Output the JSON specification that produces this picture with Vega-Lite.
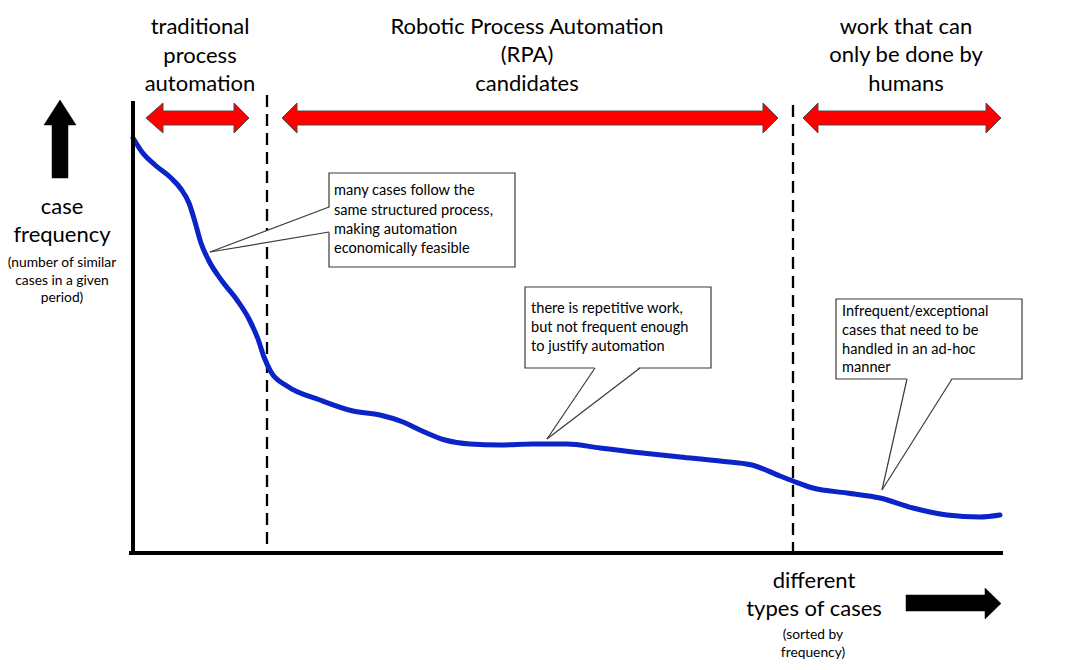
{
  "$schema": "https://vega.github.io/schema/vega-lite/v6.json",
  "width": 1067,
  "height": 670,
  "autosize": {"type": "fit", "contains": "padding"},
  "padding": 0,
  "background": "white",
  "config": {"view": {"stroke": null}, "font": "Lato"},
  "datasets": {
    "curve": [
      {"x": 133, "y": 138}, {"x": 142, "y": 152}, {"x": 155, "y": 165}, {"x": 170, "y": 177},
      {"x": 181, "y": 189}, {"x": 189, "y": 203}, {"x": 195, "y": 222}, {"x": 201, "y": 243},
      {"x": 209, "y": 261}, {"x": 222, "y": 281}, {"x": 237, "y": 300}, {"x": 249, "y": 319},
      {"x": 258, "y": 339}, {"x": 264, "y": 357}, {"x": 271, "y": 372}, {"x": 287, "y": 386},
      {"x": 320, "y": 400}, {"x": 353, "y": 411}, {"x": 380, "y": 415}, {"x": 403, "y": 422},
      {"x": 420, "y": 430}, {"x": 445, "y": 440}, {"x": 470, "y": 444}, {"x": 500, "y": 445},
      {"x": 533, "y": 444}, {"x": 567, "y": 444}, {"x": 600, "y": 448}, {"x": 633, "y": 452},
      {"x": 680, "y": 457}, {"x": 720, "y": 461}, {"x": 752, "y": 465}, {"x": 780, "y": 476},
      {"x": 793, "y": 481}, {"x": 813, "y": 488}, {"x": 847, "y": 493}, {"x": 880, "y": 498},
      {"x": 913, "y": 508}, {"x": 947, "y": 515}, {"x": 980, "y": 517}, {"x": 1000, "y": 515}
    ],
    "redArrows": [
      {"arrow": "A", "i": 1, "x": 146, "y": 118}, {"arrow": "A", "i": 2, "x": 163, "y": 103},
      {"arrow": "A", "i": 3, "x": 163, "y": 111}, {"arrow": "A", "i": 4, "x": 234, "y": 111},
      {"arrow": "A", "i": 5, "x": 234, "y": 103}, {"arrow": "A", "i": 6, "x": 249, "y": 118},
      {"arrow": "A", "i": 7, "x": 234, "y": 133}, {"arrow": "A", "i": 8, "x": 234, "y": 125},
      {"arrow": "A", "i": 9, "x": 163, "y": 125}, {"arrow": "A", "i": 10, "x": 163, "y": 133},
      {"arrow": "A", "i": 11, "x": 146, "y": 118},
      {"arrow": "B", "i": 1, "x": 282, "y": 118}, {"arrow": "B", "i": 2, "x": 297, "y": 103},
      {"arrow": "B", "i": 3, "x": 297, "y": 111}, {"arrow": "B", "i": 4, "x": 763, "y": 111},
      {"arrow": "B", "i": 5, "x": 763, "y": 103}, {"arrow": "B", "i": 6, "x": 778, "y": 118},
      {"arrow": "B", "i": 7, "x": 763, "y": 133}, {"arrow": "B", "i": 8, "x": 763, "y": 125},
      {"arrow": "B", "i": 9, "x": 297, "y": 125}, {"arrow": "B", "i": 10, "x": 297, "y": 133},
      {"arrow": "B", "i": 11, "x": 282, "y": 118},
      {"arrow": "C", "i": 1, "x": 803, "y": 118}, {"arrow": "C", "i": 2, "x": 818, "y": 103},
      {"arrow": "C", "i": 3, "x": 818, "y": 111}, {"arrow": "C", "i": 4, "x": 986, "y": 111},
      {"arrow": "C", "i": 5, "x": 986, "y": 103}, {"arrow": "C", "i": 6, "x": 1001, "y": 118},
      {"arrow": "C", "i": 7, "x": 986, "y": 133}, {"arrow": "C", "i": 8, "x": 986, "y": 125},
      {"arrow": "C", "i": 9, "x": 818, "y": 125}, {"arrow": "C", "i": 10, "x": 818, "y": 133},
      {"arrow": "C", "i": 11, "x": 803, "y": 118}
    ],
    "blackArrows": [
      {"arrow": "up", "i": 1, "x": 60, "y": 100}, {"arrow": "up", "i": 2, "x": 76, "y": 125},
      {"arrow": "up", "i": 3, "x": 68, "y": 125}, {"arrow": "up", "i": 4, "x": 68, "y": 178},
      {"arrow": "up", "i": 5, "x": 52, "y": 178}, {"arrow": "up", "i": 6, "x": 52, "y": 125},
      {"arrow": "up", "i": 7, "x": 44, "y": 125}, {"arrow": "up", "i": 8, "x": 60, "y": 100},
      {"arrow": "right", "i": 1, "x": 906, "y": 595}, {"arrow": "right", "i": 2, "x": 985, "y": 595},
      {"arrow": "right", "i": 3, "x": 985, "y": 588}, {"arrow": "right", "i": 4, "x": 1001, "y": 603.5},
      {"arrow": "right", "i": 5, "x": 985, "y": 619}, {"arrow": "right", "i": 6, "x": 985, "y": 611},
      {"arrow": "right", "i": 7, "x": 906, "y": 611}, {"arrow": "right", "i": 8, "x": 906, "y": 595}
    ],
    "axes": [
      {"x": 133, "x2": 133, "y": 103, "y2": 553},
      {"x": 131, "x2": 1001, "y": 553, "y2": 553}
    ],
    "dividers": [
      {"x": 267, "y": 95, "y2": 549},
      {"x": 793, "y": 105, "y2": 553}
    ],
    "boxes": [
      {"x": 329, "x2": 515, "y": 173, "y2": 267},
      {"x": 525, "x2": 711, "y": 287, "y2": 368},
      {"x": 836, "x2": 1022, "y": 299, "y2": 379}
    ],
    "pointers": [
      {"p": 1, "i": 1, "x": 210, "y": 252}, {"p": 1, "i": 2, "x": 330.5, "y": 207},
      {"p": 1, "i": 3, "x": 330.5, "y": 232}, {"p": 1, "i": 4, "x": 210, "y": 252},
      {"p": 2, "i": 1, "x": 547, "y": 439}, {"p": 2, "i": 2, "x": 595, "y": 366.5},
      {"p": 2, "i": 3, "x": 640, "y": 366.5}, {"p": 2, "i": 4, "x": 547, "y": 439},
      {"p": 3, "i": 1, "x": 882, "y": 490}, {"p": 3, "i": 2, "x": 907, "y": 377.5},
      {"p": 3, "i": 3, "x": 952, "y": 377.5}, {"p": 3, "i": 4, "x": 882, "y": 490}
    ],
    "pointerEdges": [
      {"x": 210, "y": 252, "x2": 329, "y2": 207},
      {"x": 210, "y": 252, "x2": 329, "y2": 232},
      {"x": 547, "y": 439, "x2": 595, "y2": 368},
      {"x": 547, "y": 439, "x2": 640, "y2": 368},
      {"x": 882, "y": 490, "x2": 907, "y2": 379},
      {"x": 882, "y": 490, "x2": 952, "y2": 379}
    ],
    "headings": [
      {"x": 200, "y": 27, "t": "traditional"},
      {"x": 200, "y": 56, "t": "process"},
      {"x": 200, "y": 84, "t": "automation"},
      {"x": 527, "y": 27, "t": "Robotic Process Automation"},
      {"x": 527, "y": 55, "t": "(RPA)"},
      {"x": 527, "y": 84, "t": "candidates"},
      {"x": 906, "y": 27, "t": "work that can"},
      {"x": 906, "y": 55, "t": "only be done by"},
      {"x": 906, "y": 84, "t": "humans"},
      {"x": 62, "y": 207, "t": "case"},
      {"x": 62, "y": 235, "t": "frequency"},
      {"x": 814, "y": 581, "t": "different"},
      {"x": 814, "y": 609, "t": "types of cases"}
    ],
    "smallLabels": [
      {"x": 62, "y": 263, "t": "(number of similar"},
      {"x": 62, "y": 281, "t": "cases in a given"},
      {"x": 62, "y": 298, "t": "period)"},
      {"x": 813, "y": 635, "t": "(sorted by"},
      {"x": 813, "y": 653, "t": "frequency)"}
    ],
    "boxText": [
      {"x": 334, "y": 191, "t": "many cases follow the"},
      {"x": 334, "y": 211, "t": "same structured process,"},
      {"x": 334, "y": 230, "t": "making automation"},
      {"x": 334, "y": 249, "t": "economically feasible"},
      {"x": 531, "y": 309, "t": "there is repetitive work,"},
      {"x": 531, "y": 328, "t": "but not frequent enough"},
      {"x": 531, "y": 347, "t": "to justify automation"},
      {"x": 842, "y": 312, "t": "Infrequent/exceptional"},
      {"x": 842, "y": 331, "t": "cases that need to be"},
      {"x": 842, "y": 350, "t": "handled in an ad-hoc"},
      {"x": 842, "y": 368, "t": "manner"}
    ]
  },
  "encoding": {
    "x": {"field": "x", "type": "quantitative", "scale": {"domain": [0, 1067], "nice": false, "zero": false}, "axis": null},
    "y": {"field": "y", "type": "quantitative", "scale": {"domain": [0, 670], "nice": false, "zero": false, "reverse": true}, "axis": null}
  },
  "layer": [
    {
      "data": {"name": "dividers"},
      "mark": {"type": "rule", "stroke": "#000000", "strokeWidth": 2.3, "strokeDash": [12, 7]},
      "encoding": {"y2": {"field": "y2"}}
    },
    {
      "data": {"name": "curve"},
      "mark": {"type": "line", "interpolate": "monotone", "stroke": "#0a24c8", "strokeWidth": 5, "strokeCap": "round"},
      "encoding": {}
    },
    {
      "data": {"name": "axes"},
      "mark": {"type": "rule", "stroke": "#000000", "strokeWidth": 4, "strokeCap": "square"},
      "encoding": {"x2": {"field": "x2"}, "y2": {"field": "y2"}}
    },
    {
      "data": {"name": "redArrows"},
      "mark": {"type": "line", "fill": "#ff0000", "stroke": "#4a4a4a", "strokeWidth": 1, "interpolate": "linear", "strokeJoin": "miter"},
      "encoding": {"detail": {"field": "arrow"}, "order": {"field": "i", "type": "quantitative"}}
    },
    {
      "data": {"name": "blackArrows"},
      "mark": {"type": "line", "fill": "#000000", "stroke": "#000000", "strokeWidth": 0.5, "interpolate": "linear", "strokeJoin": "miter"},
      "encoding": {"detail": {"field": "arrow"}, "order": {"field": "i", "type": "quantitative"}}
    },
    {
      "data": {"name": "boxes"},
      "mark": {"type": "rect", "fill": "#ffffff", "stroke": "#3a3a3a", "strokeWidth": 1.2},
      "encoding": {"x2": {"field": "x2"}, "y2": {"field": "y2"}}
    },
    {
      "data": {"name": "pointers"},
      "mark": {"type": "line", "fill": "#ffffff", "stroke": null, "strokeWidth": 0, "interpolate": "linear"},
      "encoding": {"detail": {"field": "p"}, "order": {"field": "i", "type": "quantitative"}}
    },
    {
      "data": {"name": "pointerEdges"},
      "mark": {"type": "rule", "stroke": "#3a3a3a", "strokeWidth": 1.2},
      "encoding": {"x2": {"field": "x2"}, "y2": {"field": "y2"}}
    },
    {
      "data": {"name": "headings"},
      "mark": {"type": "text", "font": "Lato", "fontSize": 22, "align": "center", "baseline": "middle", "fill": "#000000"},
      "encoding": {"text": {"field": "t"}}
    },
    {
      "data": {"name": "smallLabels"},
      "mark": {"type": "text", "font": "Lato", "fontSize": 13.8, "align": "center", "baseline": "middle", "fill": "#000000"},
      "encoding": {"text": {"field": "t"}}
    },
    {
      "data": {"name": "boxText"},
      "mark": {"type": "text", "font": "Lato", "fontSize": 14.6, "align": "left", "baseline": "middle", "fill": "#000000"},
      "encoding": {"text": {"field": "t"}}
    }
  ]
}
